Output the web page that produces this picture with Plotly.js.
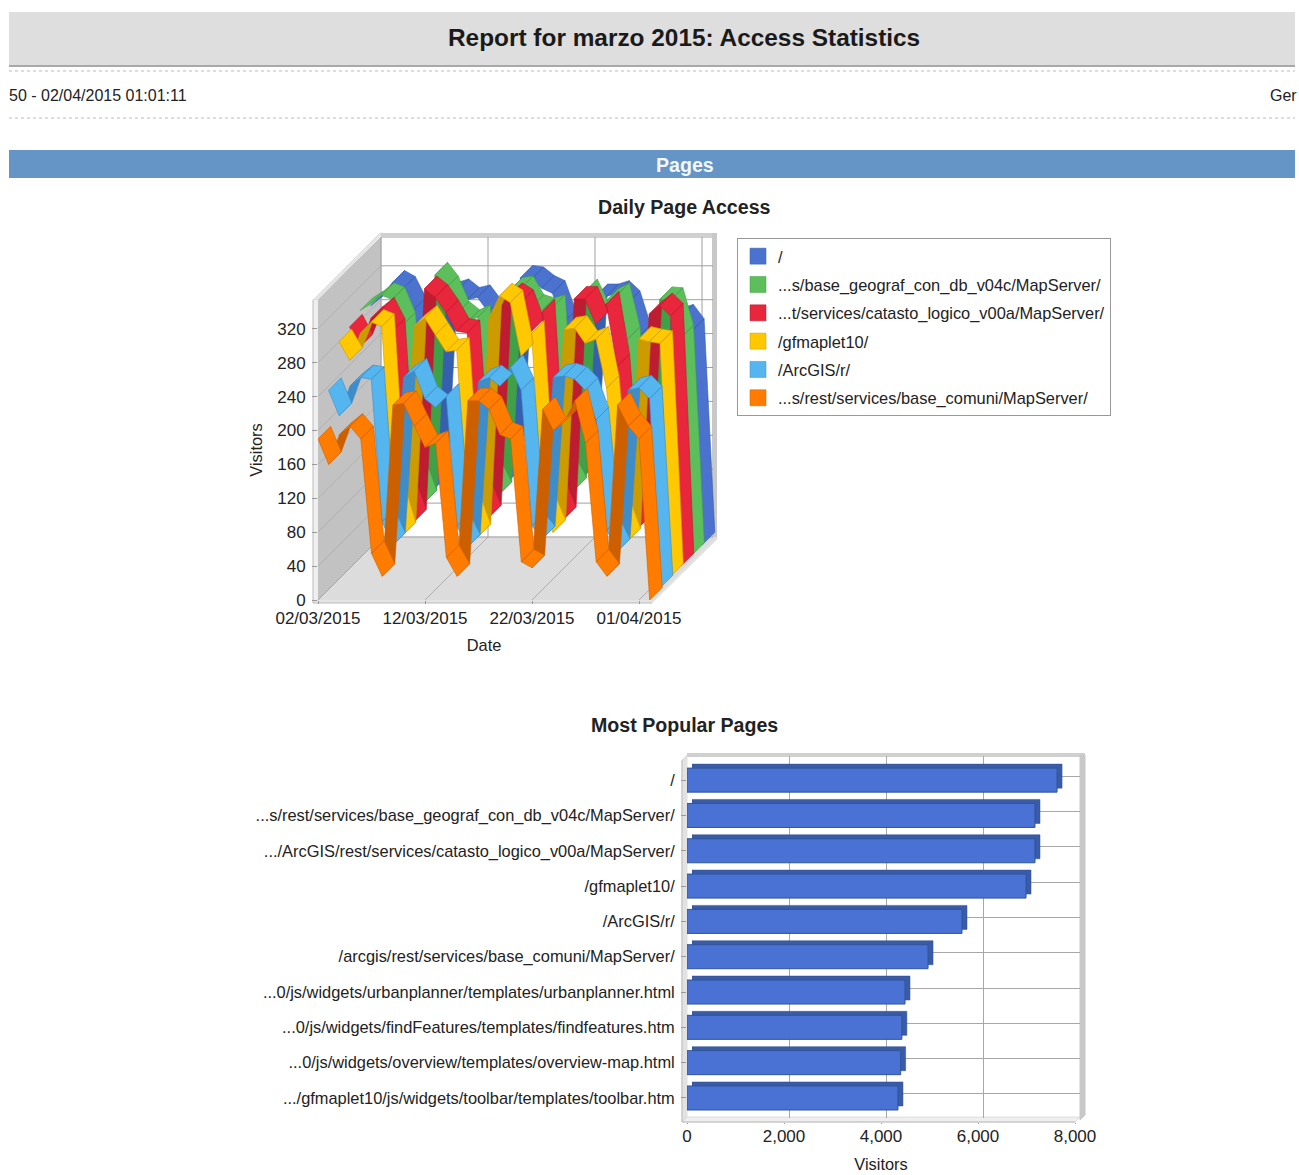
<!DOCTYPE html>
<html><head><meta charset="utf-8">
<script src="https://cdn.plot.ly/plotly-3.0.1.min.js"></script>
<style>html,body{margin:0;padding:0;background:#fff}#c{width:1299px;height:1175px}</style>
</head><body><div id="c"></div>
<script>
// ---------- DATA ----------
const days = Array.from({length:32},(_,i)=>i);
const dateTickVals = [0,10,20,30];
const dateTickText = ['02/03/2015','12/03/2015','22/03/2015','01/04/2015'];
const seriesNames = ['/','...s/base_geograf_con_db_v04c/MapServer/','...t/services/catasto_logico_v00a/MapServer/','/gfmaplet10/','/ArcGIS/r/','...s/rest/services/base_comuni/MapServer/'];
const seriesColors = ['#4A72CE','#5CBF5C','#E8263C','#FFC800','#55B5EE','#FF7C00'];
const seriesDark   = ['#3560B0','#3FA046','#BE1C30','#CC9B00','#3E8CC8','#CC6000'];
const rootVals    = [285,295,312,305,280,105,70,298,302,292,295,278,105,80,318,316,306,300,265,105,85,296,296,300,288,248,95,60,268,272,255,3];
const geografVals = [292,300,310,305,275,100,65,334,318,288,278,284,100,75,316,318,296,292,296,105,80,314,288,303,310,258,90,55,305,304,260,3];
const catastoVals = [285,262,295,305,280,90,55,330,320,302,280,278,90,60,312,322,314,280,303,90,58,318,318,288,312,238,80,48,300,310,298,3];
const gfmapVals   = [280,258,290,303,298,95,52,298,308,288,268,270,85,50,308,334,326,263,290,85,55,294,296,278,283,225,80,45,283,280,278,3];
const arcgisVals  = [235,205,240,250,248,80,52,250,258,225,215,228,75,50,245,250,240,262,235,75,60,250,252,248,235,200,70,45,235,238,225,2];
const comuniVals  = [190,160,195,205,190,55,28,230,232,205,180,185,50,28,235,235,225,195,190,45,38,225,200,210,235,185,45,28,230,205,190,0];
const allSeries = [rootVals,geografVals,catastoVals,gfmapVals,arcgisVals,comuniVals];
const visitorTicks = [0,40,80,120,160,200,240,280,320];

const pageNames = ['/','...s/rest/services/base_geograf_con_db_v04c/MapServer/','.../ArcGIS/rest/services/catasto_logico_v00a/MapServer/','/gfmaplet10/','/ArcGIS/r/','/arcgis/rest/services/base_comuni/MapServer/','...0/js/widgets/urbanplanner/templates/urbanplanner.html','...0/js/widgets/findFeatures/templates/findfeatures.htm','...0/js/widgets/overview/templates/overview-map.html','.../gfmaplet10/js/widgets/toolbar/templates/toolbar.htm'];
const pageVisitors = [7630,7175,7175,6990,5670,4970,4495,4430,4405,4350];

// ---------- LAYOUT CONSTANTS ----------
const W=1299,H=1175;
const fx=x=>x/W, fy=y=>1-y/H;
const FONT='Liberation Sans, Arial, sans-serif';
const TXT='#222222';
// chart 1 geometry in px
const L=318,R=650,B=600,T=300,DP=63,PAD=6;
const SX=10.7,SY=0.8475;
const depthX=DP/SX/6, depthY=DP/SY/6, RIBBON=1.2;

function poly(pts,fill,line,lw){
  const d='M'+pts.map(p=>fx(p[0])+','+fy(p[1])).join(' L')+' Z';
  return {type:'path',xref:'paper',yref:'paper',path:d,fillcolor:fill,line:{color:line||fill,width:lw===undefined?1:lw},layer:'below'};
}
function seg(x0,y0,x1,y1,color,width,dash){
  return {type:'line',xref:'paper',yref:'paper',x0:fx(x0),y0:fy(y0),x1:fx(x1),y1:fy(y1),line:{color,width:width||1,dash:dash||'solid'},layer:'below'};
}
function rect(x0,y0,x1,y1,fill){
  return {type:'rect',xref:'paper',yref:'paper',x0:fx(x0),y0:fy(y0),x1:fx(x1),y1:fy(y1),fillcolor:fill,line:{width:0},layer:'below'};
}

// ---------- TRACES ----------
const traces=[];
// legend entries on the visible front axes
seriesNames.forEach((n,s)=>{
  traces.push({type:'scatter',mode:'markers',x:[null],y:[null],xaxis:'x',yaxis:'y',name:n,legendgroup:'g'+s,
    marker:{symbol:'square',size:16,color:seriesColors[s],line:{color:seriesDark[s],width:0.5}},showlegend:true});
});
// ribbons, on a plane with the same scale as the front axes, extended over the depth
allSeries.forEach((vals,s)=>{
  const k=allSeries.length-1-s;
  const dark={x:[],y:[]},light={x:[],y:[]};
  const wx=depthX*RIBBON, wy=depthY*RIBBON;
  for(let i=0;i<vals.length-1;i++){
    const a0=days[i]+k*depthX,a1=days[i+1]+k*depthX;
    const b0=vals[i]+k*depthY,b1=vals[i+1]+k*depthY;
    const steepUp=(vals[i+1]-vals[i])*SY>SX;
    const t=steepUp?dark:light;
    t.x.push(a0,a1,a1+wx,a0+wx,a0,null);
    t.y.push(b0,b1,b1+wy,b0+wy,b0,null);
  }
  const base={type:'scatter',mode:'lines',fill:'toself',xaxis:'x4',yaxis:'y4',showlegend:false,hoverinfo:'skip'};
  traces.push(Object.assign({},base,dark,{fillcolor:seriesDark[s],line:{color:seriesDark[s],width:0.6}}));
  traces.push(Object.assign({},base,light,{fillcolor:seriesColors[s],line:{color:seriesDark[s],width:0.6}}));
});
// bar depth (back) and bar front
traces.push({type:'bar',orientation:'h',x:pageVisitors,y:pageNames,xaxis:'x2',yaxis:'y2',width:0.68,showlegend:false,hoverinfo:'skip',
  marker:{color:'#3A5BA8',line:{color:'#33528f',width:0.5}}});
traces.push({type:'bar',orientation:'h',x:pageVisitors,y:pageNames,xaxis:'x3',yaxis:'y3',width:0.68,showlegend:false,
  marker:{color:'#4A72D4',line:{color:'#2F5597',width:1}}});

// ---------- SHAPES ----------
const shapes=[
  rect(9,12,1295,65,'#DEDEDE'), rect(9,65,1295,67,'#A8A8A8'),
  seg(9,71,1295,71,'#BBBBBB',1,'dot'), seg(9,118,1295,118,'#BBBBBB',1,'dot'),
  rect(9,150,1295,178,'#6595C6'),
  // chart 1 frame
  poly([[L,B],[L,T],[L+DP,T-DP],[L+DP,B-DP]],'#C2C2C2'),
  poly([[L,B],[L+DP,B-DP],[R+DP+4,B-DP],[R+2,B]],'#DCDCDC'),
  poly([[L-5,T],[L+DP-1,T-DP-4],[L+DP+2,T-DP-4],[L,T]],'#E4E4E4','#CCCCCC',0.5),
  rect(L+DP,T-DP-4,R+DP+4,T-DP+1,'#D0D0D0'),
  rect(R+DP-1,T-DP-4,R+DP+4,B-DP,'#C8C8C8'),
  poly([[R+2,B+3],[R+DP+4,B-DP+2],[R+DP+4,B-DP],[R+2,B]],'#E2E2E2'),
  rect(L-5,T,L,B+3,'#EFEFEF'),
  rect(L-5,B,R+2,B+3,'#E4E4E4'),
  seg(L-5,T,L-5,B+3,'#BBBBBB',1),
  seg(L-5,B+3,R+2,B+3,'#BBBBBB',1),
  // chart 2 frame
  poly([[682,760],[687,755],[687,1117],[682,1122]],'#E2E2E2'),
  poly([[682,1122],[687,1117],[1080,1117],[1075,1122]],'#EFEFEF','#C4C4C4',0.5),
  rect(687,753,1085,757,'#D0D0D0'),
  poly([[1080,755],[1085,755],[1085,1115],[1080,1120]],'#C8C8C8'),
  seg(682,760,682,1122,'#BBBBBB',1),
  seg(682,1122,1075,1122,'#BBBBBB',1)
];
// chart 1 wall, floor grid lines driven by the tick arrays
const gx=d=>L+d*SX, gy=v=>B-v*SY;
visitorTicks.forEach(v=>{
  shapes.push(seg(gx(0),gy(v),gx(0)+DP,gy(v)-DP,'#A8A8A8',0.7));
  shapes.push(seg(gx(0)+DP,gy(v)-DP,R+DP,gy(v)-DP,'#A0A0A0',1));
});
dateTickVals.forEach(d=>{
  shapes.push(seg(gx(d),B,gx(d)+DP,B-DP,'#999999',0.7));
  shapes.push(seg(gx(d)+DP,B-DP,gx(d)+DP,T-DP,'#A0A0A0',1));
});

// ---------- ANNOTATIONS ----------
function note(text,xp,yp,size,opts){
  return Object.assign({text,xref:'paper',yref:'paper',x:fx(xp),y:fy(yp),showarrow:false,xanchor:'center',yanchor:'middle',
    font:{family:FONT,size,color:TXT}},opts||{});
}
const annotations=[
  note('<b>Report for marzo 2015: Access Statistics</b>',684,37,24.4,{font:{family:FONT,size:24.4,color:'#1a1a1a'}}),
  note('50 - 02/04/2015 01:01:11',7,95,16,{xanchor:'left'}),
  note('Ger',1268,95,16,{xanchor:'left'}),
  note('<b>Pages</b>',685,165,19.6,{font:{family:FONT,size:19.6,color:'#F4F8FC'}}),
  note('<b>Daily Page Access</b>',684,207,19.6),
  note('<b>Most Popular Pages</b>',684,725,19.6)
];

const tickFont={family:FONT,size:17,color:TXT};
const catFont={family:FONT,size:16.4,color:TXT};
const layout={
  width:W,height:H,margin:{l:0,r:0,t:0,b:0},paper_bgcolor:'#fff',plot_bgcolor:'rgba(0,0,0,0)',
  showlegend:true,barmode:'overlay',shapes,annotations,hovermode:false,
  legend:{x:fx(737),y:fy(238),xanchor:'left',yanchor:'top',bgcolor:'#fff',bordercolor:'#999999',borderwidth:1,
    font:catFont,tracegroupgap:4,itemsizing:'trace',traceorder:'grouped',entrywidth:327,entrywidthmode:'pixels'},
  xaxis:{domain:[fx(L),fx(R)],anchor:'y',range:[0,(R-L)/SX],tickmode:'array',tickvals:dateTickVals,ticktext:dateTickText,
    showgrid:false,zeroline:false,showline:false,ticks:'outside',ticklen:3,tickcolor:'#999',tickfont:tickFont,
    title:{text:'Date',font:catFont,standoff:12}},
  yaxis:{domain:[fy(B),fy(T)],anchor:'x',range:[0,(B-T)/SY],tickmode:'array',tickvals:visitorTicks,
    showgrid:false,zeroline:false,showline:false,ticks:'outside',ticklen:5,tickcolor:'#999',tickfont:tickFont,ticklabelstandoff:3,
    title:{text:'Visitors',font:catFont,standoff:10}},
  xaxis4:{domain:[fx(L),fx(R+DP+PAD)],anchor:'y4',range:[0,(R+DP+PAD-L)/SX],visible:false},
  yaxis4:{domain:[fy(B),fy(T-DP-PAD)],anchor:'x4',range:[0,(B-T+DP+PAD)/SY],visible:false},
  // back plane of the bar chart: grid and bar depth
  xaxis2:{domain:[fx(692),fx(1080)],anchor:'y2',range:[0,8000],dtick:2000,showgrid:true,gridcolor:'#A8A8A8',zeroline:false,showticklabels:false,ticks:''},
  yaxis2:{domain:[fy(1118),fy(756)],anchor:'x2',type:'category',categoryorder:'array',categoryarray:pageNames,range:[9.68,-0.57],
    showgrid:true,gridcolor:'#A8A8A8',zeroline:false,showticklabels:false,ticks:''},
  // front plane of the bar chart
  xaxis3:{domain:[fx(687),fx(1075)],anchor:'y3',range:[0,8000],dtick:2000,tickformat:',d',showgrid:false,zeroline:false,
    ticks:'outside',ticklen:1,tickcolor:'#999',tickfont:tickFont,ticklabelstandoff:-2,title:{text:'Visitors',font:catFont,standoff:13}},
  yaxis3:{domain:[fy(1122),fy(760)],anchor:'x3',type:'category',categoryorder:'array',categoryarray:pageNames,range:[9.68,-0.57],
    showgrid:false,zeroline:false,ticks:'outside',ticklen:5,tickcolor:'#999',tickfont:catFont,ticklabelstandoff:3}
};
Plotly.newPlot('c',traces,layout,{displayModeBar:false,responsive:false});
</script></body></html>
